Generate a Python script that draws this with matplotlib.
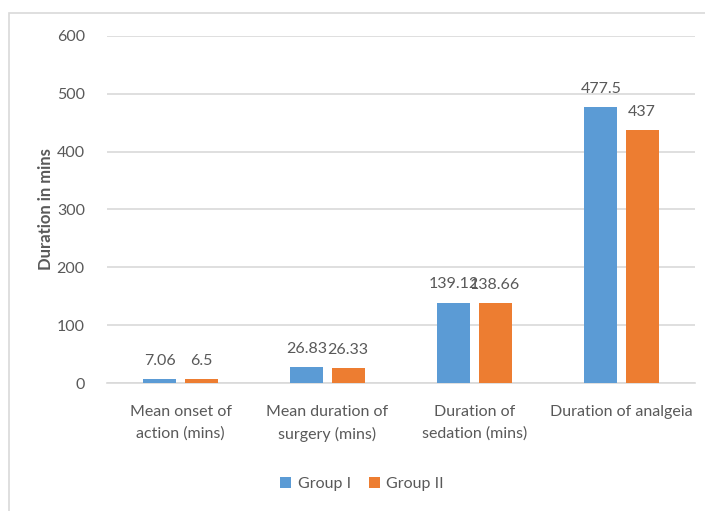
import matplotlib
matplotlib.use("Agg")
import matplotlib.pyplot as plt
from matplotlib.patches import Rectangle
import numpy as np

categories = ["Mean onset of\naction (mins)", "Mean duration of\nsurgery (mins)",
              "Duration of\nsedation (mins)", "Duration of analgeia"]
group1 = [7.06, 26.83, 139.12, 477.5]
group2 = [6.5, 26.33, 138.66, 437]
series_names = ["Group I", "Group II"]
yticks = [0, 100, 200, 300, 400, 500, 600]

BLUE = "#5B9BD5"
ORANGE = "#ED7D31"
TEXT = "#595959"
GRID = "#D9D9D9"
FS = 11.5

plt.rcParams["font.family"] = ["Lato", "DejaVu Sans"]

fig = plt.figure(figsize=(7.05, 5.11), dpi=100)
# chart frame
fig.patches.append(Rectangle((9 / 705, -0.1), 1.2, 1 - 13 / 511 + 0.1,
                             transform=fig.transFigure, fill=False,
                             edgecolor=GRID, linewidth=1.2))

ax = fig.add_axes([107 / 705, 1 - 383 / 511, (695 - 107) / 705, (383 - 36) / 511])

x = np.arange(len(categories))
w = 0.225
off = 0.14
b1 = ax.bar(x - off, group1, w, color=BLUE, zorder=3)
b2 = ax.bar(x + off, group2, w, color=ORANGE, zorder=3)

for bars, vals in ((b1, group1), (b2, group2)):
    for bar, v in zip(bars, vals):
        ax.annotate(f"{v:g}", (bar.get_x() + bar.get_width() / 2, v),
                    xytext=(0, 8), textcoords="offset points",
                    ha="center", va="bottom", fontsize=FS, color=TEXT)

ax.set_xlim(-0.5, len(categories) - 0.5)
ax.set_ylim(0, 600)
ax.set_yticks(yticks)
ax.set_xticks(x)
ax.set_xticklabels(categories, fontsize=FS, color=TEXT, linespacing=1.6)
ax.tick_params(axis="y", labelsize=FS, labelcolor=TEXT, length=0, pad=16)
ax.tick_params(axis="x", length=0, pad=16)
ax.grid(axis="y", color=GRID, linewidth=1.2, zorder=0)
for s in ("top", "right", "left"):
    ax.spines[s].set_visible(False)
ax.spines["bottom"].set_color(GRID)
ax.spines["bottom"].set_linewidth(1.2)

ax.set_ylabel("Duration in mins", fontsize=12, color=TEXT, fontweight="bold", labelpad=2)

ax.legend([b1, b2], series_names, loc="center", bbox_to_anchor=(362 / 705, 1 - 484 / 511),
          bbox_transform=fig.transFigure, ncol=2, frameon=False, fontsize=FS,
          labelcolor=TEXT, handlelength=0.7, handleheight=0.7, handletextpad=0.4,
          columnspacing=1.1)

fig.savefig("out.png", dpi=100)
